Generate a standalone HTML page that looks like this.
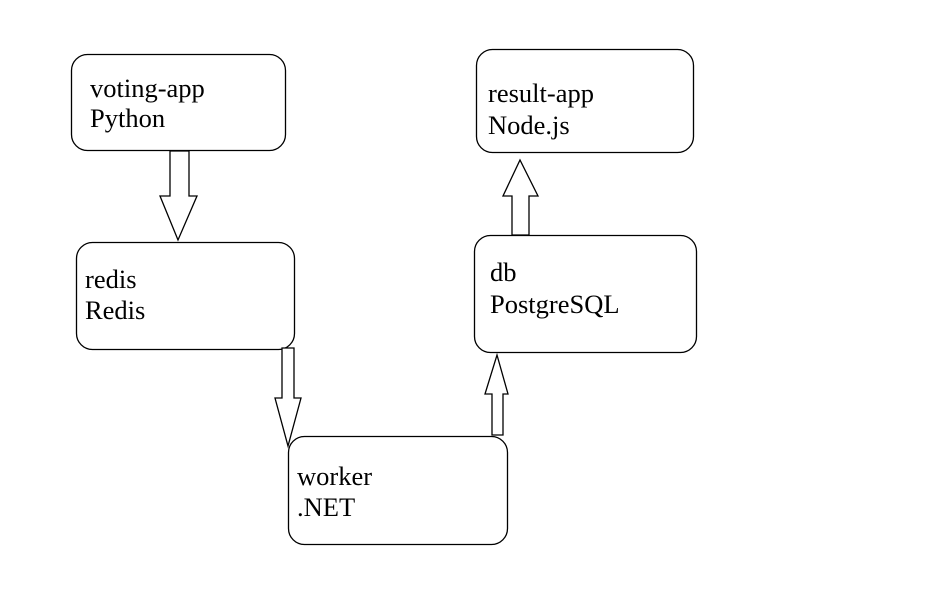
<!DOCTYPE html>
<html><head><style>
body{margin:0;background:#fff;width:925px;height:590px;overflow:hidden}
svg text{font-family:"Liberation Serif",serif;font-size:26.5px;fill:#000}
</style></head><body>
<svg width="925" height="590" xmlns="http://www.w3.org/2000/svg">
<g fill="#fff" stroke="#000" stroke-width="1.3">
<rect x="71.5" y="54.5" width="214" height="96" rx="16"/>
<rect x="76.5" y="242.5" width="218" height="107" rx="16"/>
<rect x="288.5" y="436.5" width="219" height="108" rx="16"/>
<rect x="474.5" y="235.5" width="222" height="117" rx="16"/>
<rect x="476.5" y="49.5" width="217" height="103" rx="16"/>
<polygon points="170,151 189,151 189,196 197,196 178,240 160,196 170,196"/>
<polygon points="282,348 294,348 294,398 301,398 288,446 275,398 282,398"/>
<polygon points="492,435 503,435 503,394 508,394 497,355 485,394 492,394"/>
<polygon points="512,235 529,235 529,196 538,196 520,160 503,196 512,196"/>
</g>
<text x="90" y="97">voting-app</text><text x="90" y="127">Python</text>
<text x="85" y="288">redis</text><text x="85" y="319">Redis</text>
<text x="297" y="485">worker</text><text x="297" y="516">.NET</text>
<text x="490" y="281">db</text><text x="490" y="313">PostgreSQL</text>
<text x="488" y="102">result-app</text><text x="488" y="134">Node.js</text>
</svg>
</body></html>
